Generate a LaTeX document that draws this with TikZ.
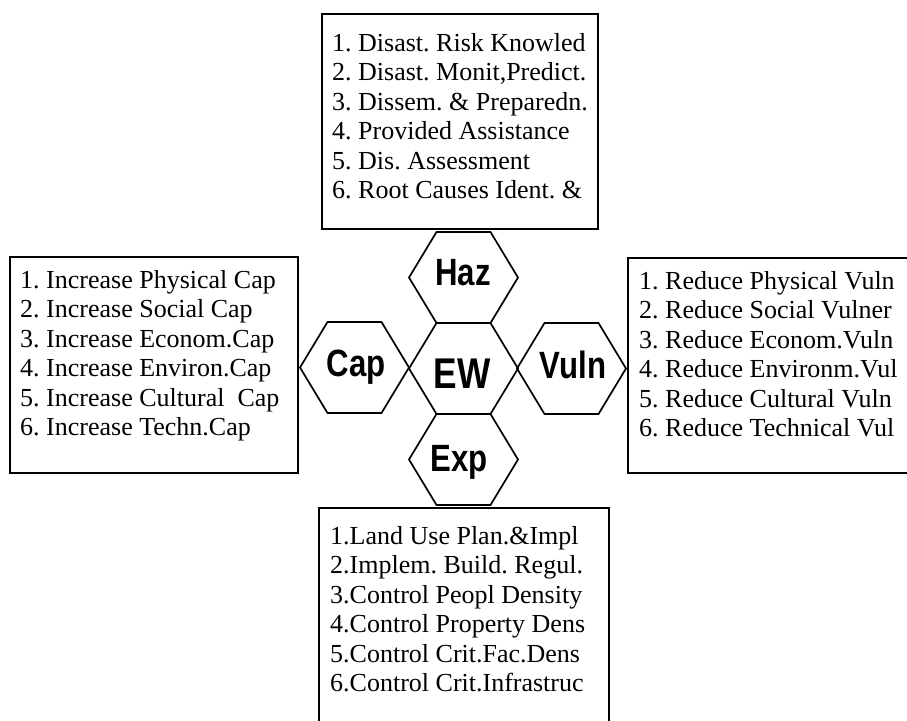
\documentclass[tikz,border=0pt]{standalone}
\usepackage{fontspec}
\setmainfont{Liberation Serif}
\newfontfamily\hexfont{Liberation Sans}
\usepackage{graphicx}
\begin{document}
\frenchspacing
\begin{tikzpicture}[x=1pt,y=-1pt,
  boxst/.style={draw=black, line width=1.7pt, anchor=north west, inner sep=0pt, fill=none},
  listtext/.style={anchor=north west, inner sep=0pt, align=left, font=\fontsize{26}{29.5}\selectfont\frenchspacing},
  hexline/.style={draw=black, line width=1.7pt, line join=miter},
  hexlabel/.style={anchor=base, inner sep=0pt, font=\hexfont\bfseries\fontsize{38}{38}\selectfont},
  hexa/.pic={\draw[hexline] (-54.5,0) -- (-27,-45.5) -- (27,-45.5) -- (54.5,0) -- (27,45.5) -- (-27,45.5) -- cycle;}
]
\useasboundingbox (0,0) rectangle (907,720);
\fill[white] (0,0) rectangle (907,720);

% boxes
\node[boxst, minimum width=276pt, minimum height=215pt] (topbox) at (321,13) {};
\node[boxst, minimum width=288pt, minimum height=216pt] (leftbox) at (9,256) {};
\node[boxst, minimum width=300pt, minimum height=215pt] (rightbox) at (627,257) {};
\node[boxst, minimum width=290pt, minimum height=230pt] (botbox) at (318,507) {};

% box texts
\node[listtext] (toptext) at (332,30.35) {\strut 1. Disast. Risk Knowled\\2. Disast. Monit,Predict.\\3. Dissem. \& Preparedn.\\4. Provided Assistance\\5. Dis. Assessment\\6. Root Causes Ident. \&};
\node[listtext] (lefttext) at (20,267.35) {\strut 1. Increase Physical Cap\\2. Increase Social Cap\\3. Increase Econom.Cap\\4. Increase Environ.Cap\\5. Increase Cultural\ \ Cap\\6. Increase Techn.Cap};
\node[listtext] (righttext) at (639,268.35) {\strut 1. Reduce Physical Vuln\\2. Reduce Social Vulner\\3. Reduce Econom.Vuln\\4. Reduce Environm.Vul\\5. Reduce Cultural Vuln\\6. Reduce Technical Vul};
\node[listtext] (bottext) at (330,523.35) {\strut 1.Land Use Plan.\&Impl\\2.Implem. Build. Regul.\\3.Control Peopl Density\\4.Control Property Dens\\5.Control Crit.Fac.Dens\\6.Control Crit.Infrastruc};

% hexagons
\pic at (463.5,277.5) {hexa};
\pic at (463.5,368.5) {hexa};
\pic at (463.5,459.5) {hexa};
\pic at (354.5,367.5) {hexa};
\pic at (571.5,368.5) {hexa};

% hexagon labels
\node[hexlabel] (haz) at (463,285) {\scalebox{0.82}[1]{Haz}};
\node[hexlabel, font=\hexfont\bfseries\fontsize{43}{43}\selectfont] (ew) at (462,388) {\scalebox{0.82}[1]{EW}};
\node[hexlabel] (cap) at (356,376) {\scalebox{0.82}[1]{Cap}};
\node[hexlabel] (vuln) at (573,378) {\scalebox{0.82}[1]{Vuln}};
\node[hexlabel] (exp) at (459,471) {\scalebox{0.82}[1]{Exp}};
\end{tikzpicture}
\end{document}
